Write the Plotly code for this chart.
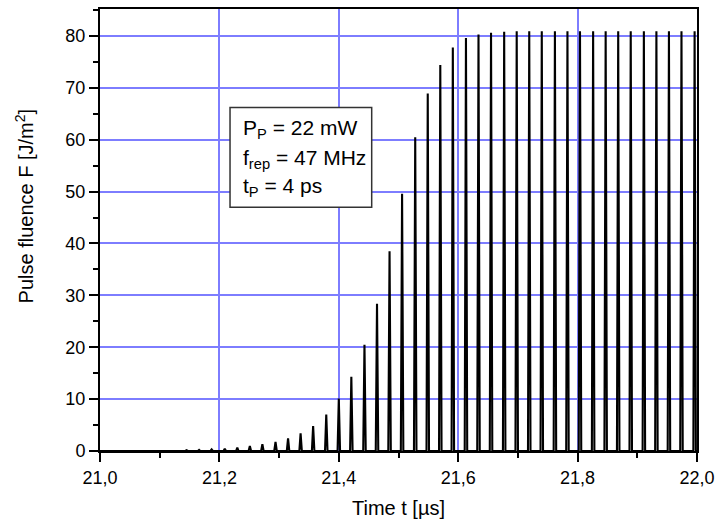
import plotly.graph_objects as go

# Pulse arrival times [µs] (rep. rate 47 MHz)
pulse_times = [21.017, 21.038, 21.060, 21.081, 21.102, 21.123, 21.145, 21.166, 21.187,
               21.209, 21.230, 21.251, 21.272, 21.294, 21.315, 21.336, 21.357, 21.379,
               21.400, 21.421, 21.443, 21.464, 21.485, 21.506, 21.528, 21.549, 21.570,
               21.591, 21.613, 21.634, 21.655, 21.677, 21.698, 21.719, 21.740, 21.762,
               21.783, 21.804, 21.826, 21.847, 21.868, 21.889, 21.911, 21.932, 21.953,
               21.974, 21.996]
# Peak pulse fluence [J/m^2]
pulse_peaks = [0.025, 0.035, 0.045, 0.06, 0.08, 0.11, 0.15, 0.2, 0.3,
               0.45, 0.65, 0.95, 1.3, 1.75, 2.45, 3.4, 4.8, 7.05,
               10.1, 14.3, 20.5, 28.4, 38.5, 49.6, 60.5, 68.9, 74.4,
               77.8, 79.6, 80.3, 80.6, 80.8, 80.9, 80.9, 80.9, 80.9,
               80.9, 80.9, 80.9, 80.9, 80.9, 80.9, 80.9, 80.9, 80.9,
               80.9, 80.9]

x_ticks = [21.0, 21.2, 21.4, 21.6, 21.8, 22.0]
y_ticks = [0, 10, 20, 30, 40, 50, 60, 70, 80]

param_lines = ["P<sub>P</sub> = 22 mW", "f<sub>rep</sub> = 47 MHz", "t<sub>P</sub> = 4 ps"]

HALF_WIDTH = 0.0021  # drawing half-width of each spike

xs, ys = [x_ticks[0]], [0.0]
for t, p in zip(pulse_times, pulse_peaks):
    xs += [t - HALF_WIDTH, t, t + HALF_WIDTH]
    ys += [0.0, p, 0.0]
xs.append(x_ticks[-1])
ys.append(0.0)

FONT = "Liberation Sans, Arial, sans-serif"
GRID = "rgb(125,125,255)"

fig = go.Figure()
fig.add_trace(go.Scatter(x=xs, y=ys, mode="lines",
                         line=dict(color="black", width=2.1),
                         hoverinfo="skip", showlegend=False))

axis_common = dict(showline=True, linecolor="black", linewidth=2, mirror=True,
                   ticks="outside", ticklen=9, tickwidth=1.8, tickcolor="black",
                   showgrid=True, gridcolor=GRID, gridwidth=1.5, zeroline=False,
                   tickfont=dict(family=FONT, size=18, color="black"))

fig.update_xaxes(range=[21.0, 22.0], tickvals=x_ticks, tickformat=".1f",
                 minor=dict(dtick=0.1, ticklen=5, tickwidth=1.5, tickcolor="black",
                            ticks="outside", showgrid=False),
                 **axis_common)
fig.update_yaxes(range=[0, 85.2], tickvals=y_ticks,
                 minor=dict(dtick=5, ticklen=5, tickwidth=1.5, tickcolor="black",
                            ticks="outside", showgrid=False),
                 **axis_common)

fig.add_shape(type="rect", xref="paper", yref="paper",
              x0=0.2178, x1=0.4551, y0=0.5515, y1=0.7769,
              line=dict(color="#333333", width=1.5), fillcolor="white", layer="above")

for txt, yp in zip(param_lines, [0.728, 0.660, 0.598]):
    fig.add_annotation(text=txt, xref="paper", yref="paper", x=0.2362, y=yp,
                       xanchor="left", yanchor="middle", showarrow=False,
                       font=dict(family=FONT, size=21, color="black"))

fig.add_annotation(text="Time t [µs]", xref="paper", yref="paper", x=0.5, y=-0.129,
                   xanchor="center", yanchor="middle", showarrow=False,
                   font=dict(family=FONT, size=20, color="black"))
fig.add_annotation(text="Pulse fluence F [J/m<sup>2</sup>]", xref="paper", yref="paper",
                   x=-0.1273, y=0.5533, xanchor="center", yanchor="middle",
                   textangle=-90, showarrow=False,
                   font=dict(family=FONT, size=20, color="black"))

fig.update_layout(width=723, height=525, margin=dict(l=100, r=26, t=7, b=74),
                  paper_bgcolor="white", plot_bgcolor="white", separators=",.",
                  showlegend=False)

fig.write_html("out.html", config={"displayModeBar": False},
               post_script="document.body.style.margin='0';document.body.style.overflow='hidden';")
